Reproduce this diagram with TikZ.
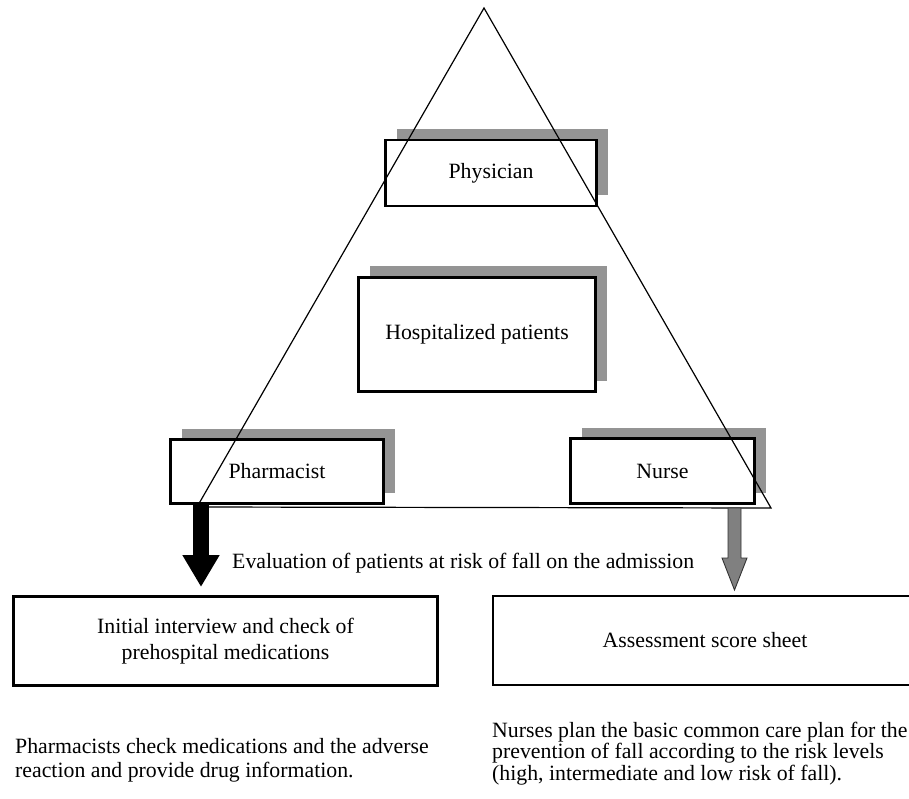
\documentclass[tikz,border=0pt]{standalone}
\usepackage{fontspec}
\setmainfont{Liberation Serif}
\usetikzlibrary{arrows.meta,shadows}
\begin{document}
\begin{tikzpicture}[x=1pt,y=-1pt,
  every node/.style={font=\fontsize{21.8}{26}\selectfont},
  plainbox/.style={draw=black, line width=2.8pt, fill=white, inner sep=0pt},
  box/.style={plainbox, drop shadow={shadow xshift=11pt, shadow yshift=11pt, fill=black!42, opacity=1}},
  tri/.style={line width=1.2pt, draw=black},
  txt/.style={anchor=base west, inner sep=0pt},
]
\useasboundingbox (0,0) rectangle (909,799);
\clip (0,0) rectangle (909,799);

% boxes with shadows
\node[box, minimum width=211pt, minimum height=66pt] (phys) at (491,173) {Physician};
\node[box, minimum width=237pt, minimum height=114pt] (hosp) at (477,334.5) {Hospitalized patients};
\node[box, minimum width=213pt, minimum height=64pt] (pharm) at (277,471.5) {Pharmacist};
\node[box, minimum width=184pt, minimum height=65pt] (nurse) at (662.5,471) {Nurse};

% triangle
\coordinate (apex) at (484,8);
\coordinate (bl) at (197,507);
\coordinate (br) at (771,508);
\draw[tri] (bl) -- (apex) -- (br) -- cycle;

% bottom boxes
\node[plainbox, minimum width=424pt, minimum height=89pt, align=center] (init) at (225.5,641) {Initial interview and check of\\prehospital medications};
\node[plainbox, minimum width=424pt, minimum height=89pt] (assess) at (705,640.5) {Assessment score sheet};

% arrows
\coordinate (pa) at (201,505);
\coordinate (pt) at (201,587);
\draw[line width=16pt, -{Triangle[width=35pt,length=32pt]}] (pa) -- (pt);
\filldraw[fill=black!50, draw=black!80, line width=0.9pt]
  (728,508) -- (741,508) -- (741,558) -- (747,558) -- (734.5,590) -- (722,558) -- (728,558) -- cycle;

% texts
\node[txt] (eval) at (232,568) {Evaluation of patients at risk of fall on the admission};
\node[txt] (p1) at (15,753) {Pharmacists check medications and the adverse};
\node[txt] (p2) at (15,777) {reaction and provide drug information.};
\node[txt] (n1) at (492,737) {Nurses plan the basic common care plan for the};
\node[txt] (n2) at (492,758.5) {prevention of fall according to the risk levels};
\node[txt] (n3) at (492,780) {(high, intermediate and low risk of fall).};
\end{tikzpicture}
\end{document}
